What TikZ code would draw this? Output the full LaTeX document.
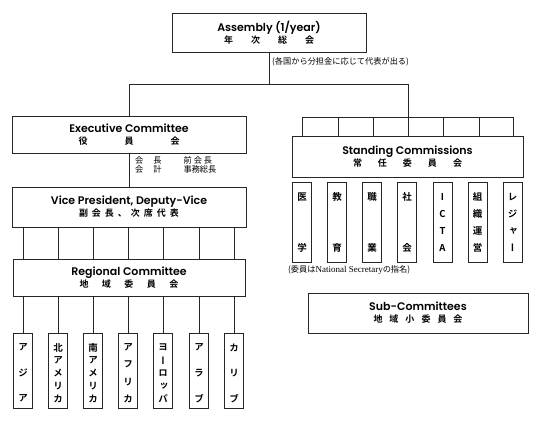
\documentclass[tikz,border=0pt]{standalone}
\usepackage{fontspec}
\setmainfont{Liberation Serif}
\IfFontExistsTF{Poppins SemiBold}{\newfontfamily\en{Poppins SemiBold}}{\newfontfamily\en{Poppins}[UprightFont=*-Bold]}
\newfontfamily\jp{Noto Sans CJK JP}
\IfFontExistsTF{Noto Sans CJK JP Bold}{\newfontfamily\jpb{Noto Sans CJK JP Bold}}{\newfontfamily\jpb{Noto Sans CJK JP}}
\IfFontExistsTF{Noto Sans CJK JP Bold}{\newfontfamily\jpv{Noto Sans CJK JP Bold}[RawFeature=+vert]}{\newfontfamily\jpv{Noto Sans CJK JP}[RawFeature=+vert]}
\usetikzlibrary{calc}
\newcommand\enf{\en\fontsize{11}{16.5}\selectfont}
\newcommand\jpf{\jpb\fontsize{9}{16.5}\selectfont}
\newcommand\colchars[3]{%
  \foreach \c [count=\i] in {#3}{%
    \node[jpc] (#1c\i) at ($(#1.north)+(0,{15+(\i-1)*51/(#2-1)})$) {\c};
  }}
\begin{document}
\begin{tikzpicture}[x=1pt,y=-1pt,
  box/.style={draw=black!85, line width=0.7pt, inner sep=0pt, align=center},
  cbox/.style={draw=black!85, line width=0.7pt, minimum width=19pt, inner sep=0pt},
  ln/.style={draw=black!85, line width=0.6pt},
  jpc/.style={inner sep=0pt, font=\jpv\fontsize{9.5}{10}\selectfont},
  note/.style={inner sep=0pt, font=\jp\fontsize{8.2}{10}\selectfont}
]
\useasboundingbox (0,0) rectangle (533,422);
% main boxes
\node[box, minimum width=194pt, minimum height=39pt] (asm) at (269,32.5)
  {\enf Assembly (1/year)\\\jpf 年\hspace{18pt}次\hspace{18pt}総\hspace{18pt}会};
\node[box, minimum width=234pt, minimum height=37pt] (exec) at (129,134.5)
  {\enf Executive Committee\\\jpf 役\hspace{37pt}員\hspace{37pt}会};
\node[box, minimum width=234pt, minimum height=40pt] (vp) at (129,207)
  {\enf Vice President, Deputy-Vice\\\jpf 副\hspace{4pt}会\hspace{4pt}長\hspace{4pt}、\hspace{4pt}次\hspace{4pt}席\hspace{4pt}代\hspace{4pt}表};
\node[box, minimum width=232pt, minimum height=37pt] (reg) at (129,277.5)
  {\enf Regional Committee\\\jpf 地\hspace{13.5pt}域\hspace{13.5pt}委\hspace{13.5pt}員\hspace{13.5pt}会};
\node[box, minimum width=231pt, minimum height=41pt] (std) at (407.5,156.5)
  {\enf Standing Commissions\\\jpf 常\hspace{16pt}任\hspace{16pt}委\hspace{16pt}員\hspace{16pt}会};
\node[box, minimum width=220pt, minimum height=40pt] (sub) at (418,313)
  {\enf Sub-Committees\\\jpf 地\hspace{7pt}域\hspace{7pt}小\hspace{7pt}委\hspace{7pt}員\hspace{7pt}会};
% regional columns
\foreach \x [count=\i] in {23,58,93,128,163,199,234}{
  \node[cbox, minimum height=75pt] (r\i) at (\x,370.5) {};
}
\colchars{r1}{3}{ア,ジ,ア}
\colchars{r2}{5}{北,ア,メ,リ,カ}
\colchars{r3}{5}{南,ア,メ,リ,カ}
\colchars{r4}{4}{ア,フ,リ,カ}
\colchars{r5}{5}{ヨ,ー,ロ,ッ,パ}
\colchars{r6}{3}{ア,ラ,ブ}
\colchars{r7}{3}{カ,リ,ブ}
% standing columns
\foreach \x [count=\i] in {302,337,372,407,442.5,477.5,512.5}{
  \node[cbox, minimum height=80pt] (s\i) at (\x,222) {};
}
\colchars{s1}{2}{医,学}
\colchars{s2}{2}{教,育}
\colchars{s3}{2}{職,業}
\colchars{s4}{2}{社,会}
\colchars{s5}{4}{I,C,T,A}
\colchars{s6}{4}{組,織,運,営}
\colchars{s7}{4}{レ,ジ,ャ,ー}
% notes
\node[note, anchor=west] (n1) at (272,62) {(各国から分担金に応じて代表が出る)};
\node[note, anchor=west] (n2) at (288,270) {(委員は{\rmfamily\fontsize{9}{10}\selectfont National Secretary}の指名)};
\node[note, anchor=north west, align=left] (n3) at (135,156)
  {会\hspace{10pt}長\hspace{22pt}前\hspace{2pt}会\hspace{2pt}長\\[-1pt]会\hspace{10pt}計\hspace{22pt}事務総長};
% connectors
\coordinate (hl) at (0,84);
\foreach \x [count=\i] in {302,338,373,408,443,479,513}{
  \coordinate (t\i) at (\x,117);
}
\draw[ln] (asm.south) -- (asm.south |- hl);
\draw[ln] (exec.north) -- (exec.north |- hl) -| (t4);
\draw[ln] (t1) -- (t7);
\foreach \i in {1,...,7}{
  \draw[ln] (t\i) -- (t\i |- std.north);
  \draw[ln] (vp.south -| r\i) -- (reg.north -| r\i);
  \draw[ln] (reg.south -| r\i) -- (r\i.north);
}
\draw[ln] (exec.south) -- (vp.north);
\end{tikzpicture}
\end{document}
